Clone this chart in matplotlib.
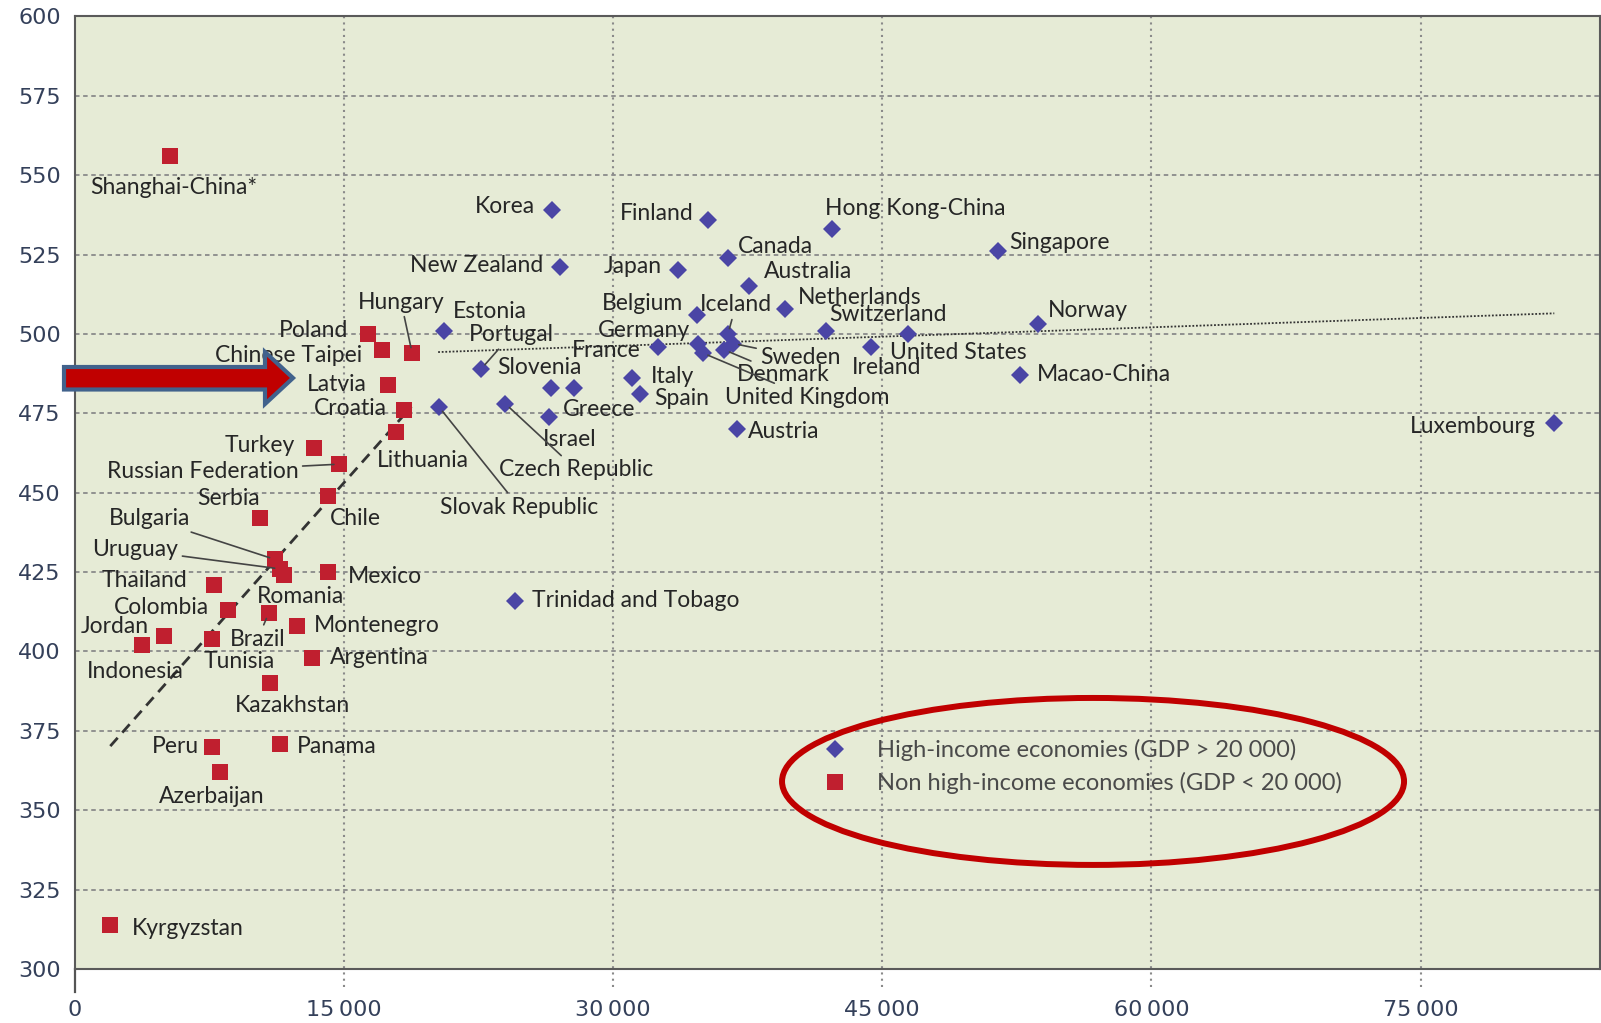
import matplotlib
matplotlib.use("Agg")
import matplotlib.pyplot as plt
from matplotlib.lines import Line2D
from matplotlib.patches import Ellipse, Polygon

plt.rcParams['font.family'] = ['Lato', 'DejaVu Sans']

# high-income economies: GDP per capita (USD PPP) vs reading score
high_names = ["Korea", "Finland", "Hong Kong-China", "Canada", "Singapore", "New Zealand",
              "Japan", "Australia", "Netherlands", "Belgium", "Iceland", "Germany",
              "Switzerland", "Norway", "France", "Sweden", "United States", "Ireland",
              "Denmark", "Italy", "Spain", "United Kingdom", "Austria", "Macao-China",
              "Luxembourg", "Estonia", "Portugal", "Slovenia", "Greece", "Israel",
              "Czech Republic", "Slovak Republic", "Trinidad and Tobago"]
high_gdp = [26600, 35300, 42200, 36400, 51450, 27050,
            33600, 37600, 39600, 34700, 36400, 34750,
            41850, 53700, 32500, 36700, 46450, 44400,
            36200, 31050, 31500, 35000, 36900, 52700,
            82450, 20600, 22650, 26550, 27800, 26450,
            24000, 20300, 24550]
high_score = [539, 536, 533, 524, 526, 521,
              520, 515, 508, 506, 500, 497,
              501, 503, 496, 497, 500, 496,
              495, 486, 481, 494, 470, 487,
              472, 501, 489, 483, 483, 474,
              478, 477, 416]

# non high-income economies
low_names = ["Shanghai-China*", "Poland", "Chinese Taipei", "Hungary", "Latvia", "Croatia",
             "Lithuania", "Turkey", "Russian Federation", "Chile", "Serbia", "Bulgaria",
             "Uruguay", "Romania", "Mexico", "Thailand", "Colombia", "Brazil",
             "Montenegro", "Jordan", "Indonesia", "Tunisia", "Argentina", "Kazakhstan",
             "Peru", "Panama", "Azerbaijan", "Kyrgyzstan"]
low_gdp = [5300, 16350, 17100, 18800, 17450, 18350,
           17900, 13350, 14750, 14100, 10300, 11150,
           11450, 11650, 14100, 7750, 8550, 10800,
           12400, 4950, 3750, 7650, 13200, 10900,
           7650, 11450, 8100, 1950]
low_score = [556, 500, 495, 494, 484, 476,
             469, 464, 459, 449, 442, 429,
             426, 424, 425, 421, 413, 412,
             408, 405, 402, 404, 398, 390,
             370, 371, 362, 314]

# trend lines
trend_high_x = [20250, 82450]
trend_high_y = [494.3, 506.5]
trend_low_x = [1980, 18760]
trend_low_y = [370.2, 477.1]

# label placement: (dx px, dy px, ha, leader line)
label_pos = {
    "Korea": (-17, 4, "right", False), "Finland": (-15, 6, "right", False),
    "Hong Kong-China": (-7, 21, "left", False), "Canada": (10, 11, "left", False),
    "Singapore": (11, 9, "left", False), "New Zealand": (-17, 2, "right", False),
    "Japan": (-16, 4, "right", False), "Australia": (14, 15, "left", False),
    "Netherlands": (13, 11, "left", False), "Belgium": (-14, 11, "right", False),
    "Iceland": (8, 29, "center", True), "Germany": (-8, 13, "right", False),
    "Switzerland": (3, 16, "left", False), "Norway": (9, 14, "left", False),
    "France": (-17, -4, "right", False), "Sweden": (27, -14, "left", True),
    "United States": (-18, -19, "left", False), "Ireland": (-20, -21, "left", False),
    "Denmark": (13, -25, "left", True), "Italy": (19, 2, "left", False),
    "Spain": (14, -4, "left", False), "United Kingdom": (22, -44, "left", True),
    "Austria": (11, -2, "left", False), "Macao-China": (16, 1, "left", False),
    "Luxembourg": (-19, -4, "right", False), "Estonia": (8, 19, "left", False),
    "Portugal": (30, 34, "center", True), "Slovenia": (-54, 20, "left", False),
    "Greece": (-11, -22, "left", False), "Israel": (-7, -23, "left", False),
    "Czech Republic": (-6, -66, "left", True), "Slovak Republic": (1, -100, "left", True),
    "Trinidad and Tobago": (17, 0, "left", False),
    "Shanghai-China*": (-80, -31, "left", False), "Poland": (-20, 3, "right", False),
    "Chinese Taipei": (-19, -6, "right", False), "Hungary": (-11, 51, "center", True),
    "Latvia": (-21, 0, "right", False), "Croatia": (-17, 2, "right", False),
    "Lithuania": (-19, -28, "left", False), "Turkey": (-19, 3, "right", False),
    "Russian Federation": (-41, -7, "right", True), "Chile": (2, -23, "left", False),
    "Serbia": (0, 20, "right", False), "Bulgaria": (-85, 41, "right", True),
    "Uruguay": (-102, 19, "right", True), "Romania": (-27, -21, "left", False),
    "Mexico": (20, -4, "left", False), "Thailand": (-26, 4, "right", False),
    "Colombia": (-19, 3, "right", False), "Brazil": (-11, -26, "center", True),
    "Montenegro": (17, 1, "left", False), "Jordan": (-15, 9, "right", False),
    "Indonesia": (-7, -26, "center", False), "Tunisia": (-8, -23, "left", False),
    "Argentina": (18, 0, "left", False), "Kazakhstan": (22, -22, "center", False),
    "Peru": (-13, 0, "right", False), "Panama": (17, -3, "left", False),
    "Azerbaijan": (-8, -24, "center", False), "Kyrgyzstan": (22, -4, "left", False),
}

blue = "#4a45a5"
red = "#c01f2f"
grid_c = "#8a8a8a"
text_c = "#262626"

fig = plt.figure(figsize=(16.01, 10.23), dpi=100)
ax = fig.add_axes([0.0467, 0.0528, 0.9527, 0.9311])
ax.set_facecolor("#e6ebd6")
ax.set_xlim(0, 85000)
ax.set_ylim(300, 600)

yticks = list(range(300, 601, 25))
xticks = [0, 15000, 30000, 45000, 60000, 75000]
ax.set_yticks(yticks)
ax.set_xticks(xticks)
ax.set_xticklabels([f"{t:,}".replace(",", "\u2009") for t in xticks])
ax.tick_params(axis="y", length=0, pad=10, labelsize=16, labelcolor="#34405a")
ax.tick_params(axis="x", length=0, pad=22, labelsize=16, labelcolor="#34405a")
for lab in ax.get_xticklabels() + ax.get_yticklabels():
    lab.set_family("DejaVu Sans")

for y in yticks[1:-1]:
    ax.axhline(y, color=grid_c, lw=1.3, ls=(0, (2.5, 2)), zorder=1)
for x in xticks[1:]:
    ax.axvline(x, ymin=-0.019, ymax=1, color=grid_c, lw=1.5, ls=(0, (1, 2)), zorder=1, clip_on=False)
ax.axvline(0, ymin=-0.024, ymax=0, color="#555555", lw=1.6, clip_on=False)

for s in ax.spines.values():
    s.set_color("#5a5a5a")
    s.set_linewidth(1.5)

ax.plot(trend_low_x, trend_low_y, color="#333333", lw=2, ls=(0, (4, 2.5)), zorder=2)
ax.plot(trend_high_x, trend_high_y, color="#333333", lw=1.3, ls=(0, (1, 1)), zorder=2)

ax.plot(high_gdp, high_score, "D", color=blue, ms=9.2, mew=0, zorder=4)
ax.plot(low_gdp, low_score, "s", color=red, ms=11.5, mew=0, zorder=4)

for names, xs, ys in [(high_names, high_gdp, high_score), (low_names, low_gdp, low_score)]:
    for n, x, y in zip(names, xs, ys):
        dx, dy, ha, line = label_pos[n]
        props = None
        if line:
            props = dict(arrowstyle="-", color="#444444", lw=1.2, shrinkA=1, shrinkB=4)
        ax.annotate(n, (x, y), xytext=(dx, dy), textcoords="offset pixels",
                    ha=ha, va="center", fontsize=16.5, color=text_c,
                    arrowprops=props, zorder=5)

handles = [Line2D([], [], marker="D", color=blue, ls="none", ms=9.2, mew=0),
           Line2D([], [], marker="s", color=red, ls="none", ms=11.5, mew=0)]
leg = ax.legend(handles, ["High-income economies (GDP > 20 000)",
                          "Non high-income economies (GDP < 20 000)"],
                loc="center left", bbox_to_anchor=(0.4916, 0.2124), frameon=False,
                borderpad=0, borderaxespad=0, handlelength=0.9, handletextpad=1.3,
                labelspacing=0.45, fontsize=17)
for t in leg.get_texts():
    t.set_color("#4a4a4a")

ax.add_patch(Ellipse((0.6676, 0.1969), 0.4078, 0.1753, transform=ax.transAxes,
                     fill=False, edgecolor="#c00000", lw=4.3, zorder=6))

W, H = 1601, 1023
arrow_px = [(64, 367), (265, 367), (265, 352), (293, 378), (265, 404), (265, 389.5), (64, 389.5)]
fig.patches.append(Polygon([(x / W, 1 - y / H) for x, y in arrow_px], closed=True,
                           transform=fig.transFigure, facecolor="#c00000",
                           edgecolor="#41628c", lw=3, zorder=10))

fig.savefig("out.png", dpi=100)
